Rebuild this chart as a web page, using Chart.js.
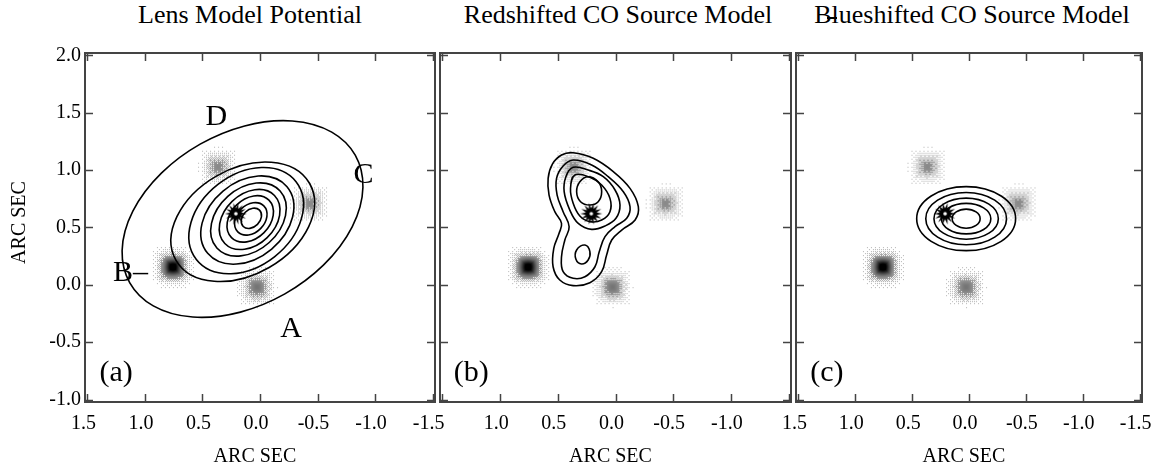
<!DOCTYPE html>
<html>
<head>
<meta charset="utf-8">
<script src="https://cdn.jsdelivr.net/npm/chart.js@4.4.1/dist/chart.umd.min.js"></script>
<style>
  body { margin: 0; background: #fff; }
  #wrap { position: relative; width: 1154px; height: 467px; overflow: hidden; }
  #wrap canvas { position: absolute; left: 0; top: 0; }
  .title { position: absolute; top: 0; font-family: "Liberation Serif", serif; font-size: 26px;
           line-height: 30px; white-space: nowrap; transform: translateX(-50%); color: #000; }
  .bar { position: absolute; left: 827px; top: 17px; width: 10px; height: 2px; background: #000; }
</style>
</head>
<body>
<div id="wrap">
  <div class="title" style="left:250px">Lens Model Potential</div>
  <div class="title" style="left:618px">Redshifted CO Source Model</div>
  <div class="title" style="left:972px">Blueshifted CO Source Model</div>
  <div class="bar"></div>
  <canvas id="pa" width="1154" height="467"></canvas>
  <canvas id="pb" width="1154" height="467"></canvas>
  <canvas id="pc" width="1154" height="467"></canvas>
</div>
<script>
const xTicks = [1.5, 1.0, 0.5, 0.0, -0.5, -1.0, -1.5];
const yTicks = [-1.0, -0.5, 0.0, 0.5, 1.0, 1.5, 2.0];

// the four lensed images (grey blobs), same in every panel
const spotX = [0.365, -0.435, 0.757, 0.026];
const spotY = [1.03, 0.71, 0.155, -0.02];
const spotPeak = [0.45, 0.45, 1.0, 0.55];

// lens centre marker
const starX = [0.21];
const starY = [0.62];

// (a) potential contours: centre, semi axes (arcsec), tilt (deg)
const lensCx = [0.152, 0.15, 0.12, 0.11, 0.10, 0.09, 0.085, 0.08, 0.075];
const lensCy = [0.574, 0.55, 0.56, 0.565, 0.57, 0.57, 0.575, 0.575, 0.58];
const lensA = [1.126, 0.67, 0.55, 0.45, 0.37, 0.30, 0.23, 0.16, 0.10];
const lensB = [0.75, 0.46, 0.40, 0.33, 0.27, 0.22, 0.17, 0.12, 0.075];
const lensTilt = [29.5, 30, 38, 40, 42, 44, 45, 45, 45];

const letterText = ["A", "B\u2013", "C", "D"];
const letterX = [-0.27, 1.126, -0.90, 0.38];
const letterY = [-0.385, 0.10, 0.96, 1.46];

const tagText = ["(a)", "(b)", "(c)"];
const tagX = 1.25;
const tagY = -0.77;

const red1 = [[0.367, 1.152], [0.193, 1.103], [0.019, 0.987], [-0.126, 0.841], [-0.198, 0.681],
  [-0.17, 0.565], [-0.054, 0.478], [0.033, 0.391], [0.077, 0.26], [0.12, 0.115], [0.222, 0.019],
  [0.367, -0.007], [0.483, 0.042], [0.541, 0.158], [0.535, 0.318], [0.489, 0.449], [0.468, 0.536],
  [0.526, 0.638], [0.576, 0.783], [0.584, 0.929], [0.546, 1.054], [0.468, 1.132]];
const red2 = [[0.367, 1.088], [0.207, 1.045], [0.063, 0.943], [-0.068, 0.812], [-0.126, 0.681],
  [-0.097, 0.58], [0.004, 0.507], [0.091, 0.42], [0.141, 0.289], [0.178, 0.158], [0.265, 0.071],
  [0.367, 0.057], [0.454, 0.115], [0.468, 0.245], [0.439, 0.391], [0.402, 0.507], [0.454, 0.638],
  [0.506, 0.783], [0.511, 0.929], [0.454, 1.036]];
const red3 = [[0.367, 1.025], [0.237, 1.001], [0.106, 0.943], [0.004, 0.827], [-0.039, 0.696],
  [-0.004, 0.58], [0.091, 0.513], [0.207, 0.484], [0.323, 0.536], [0.396, 0.652], [0.445, 0.812],
  [0.43, 0.943]];
const red4 = [[0.352, 0.958], [0.222, 0.938], [0.12, 0.87], [0.048, 0.754], [0.048, 0.638],
  [0.12, 0.565], [0.222, 0.551], [0.309, 0.6], [0.367, 0.711], [0.39, 0.841]];
const red5 = [[0.237, 0.943], [0.15, 0.899], [0.12, 0.812], [0.15, 0.725], [0.222, 0.696],
  [0.303, 0.725], [0.337, 0.812], [0.309, 0.899]];
const red6 = [[0.265, 0.347], [0.222, 0.289], [0.237, 0.217], [0.294, 0.182], [0.343, 0.223],
  [0.337, 0.304]];

// (c) blueshifted source contours
const blueCx = [0.025, 0.025, 0.025, 0.025, 0.025];
const blueCy = [0.577, 0.577, 0.577, 0.577, 0.577];
const blueA = [0.435, 0.355, 0.283, 0.217, 0.123];
const blueB = [0.279, 0.228, 0.179, 0.133, 0.083];
const blueTilt = [0, 0, 0, 0, 0];

const serif = "'Liberation Serif', 'Times New Roman', serif";

function makeSpot(peak) {
  const n = 48;
  const c = document.createElement("canvas");
  c.width = c.height = n;
  const g = c.getContext("2d");
  const bayer = [[0, 8, 2, 10], [12, 4, 14, 6], [3, 11, 1, 9], [15, 7, 13, 5]];
  for (let i = 0; i < n; i++) {
    for (let j = 0; j < n; j++) {
      const dx = i - n / 2 + 0.5, dy = j - n / 2 + 0.5;
      const r2 = 0.5 * (dx * dx + dy * dy) + 0.5 * Math.max(dx * dx, dy * dy);
      const v = peak * Math.exp(-r2 / (2 * 8 * 8));
      if (v < 0.02) continue;
      if ((bayer[i % 4][j % 4] + 0.5) / 16 > Math.min(1, v * 2.2)) continue;
      const s = Math.round(255 * (1 - Math.min(1, 0.3 + 0.8 * v * v)));
      g.fillStyle = `rgb(${s},${s},${s})`;
      g.fillRect(i, j, 1, 1);
    }
  }
  return c;
}

function makeStar() {
  const n = 26;
  const c = document.createElement("canvas");
  c.width = c.height = n;
  const g = c.getContext("2d");
  g.translate(n / 2, n / 2);
  const k = 14;
  g.beginPath();
  for (let i = 0; i < 2 * k; i++) {
    const r = i % 2 ? 5.5 : 11;
    const t = i * Math.PI / k;
    g.lineTo(r * Math.cos(t), r * Math.sin(t));
  }
  g.closePath();
  g.fillStyle = "#000";
  g.fill();
  g.fillStyle = "#fff";
  g.beginPath();
  g.arc(0, 0, 1.8, 0, Math.PI * 2);
  g.fill();
  return c;
}

const spotImgs = spotPeak.map(makeSpot);
const starImg = makeStar();

// wrap an outline so the bezier closes smoothly; the two extra segments are hidden
function closedLine(pts) {
  const n = pts.length;
  const wrapped = [pts[n - 1], ...pts, pts[0], pts[1]].map(p => ({ x: p[0], y: p[1] }));
  const last = wrapped.length - 1;
  return {
    type: "scatter",
    data: wrapped,
    showLine: true,
    borderColor: "#000",
    borderWidth: 1.6,
    pointRadius: 0,
    tension: 0.4,
    segment: {
      borderColor: ctx => (ctx.p0DataIndex === 0 || ctx.p1DataIndex === last) ? "rgba(0,0,0,0)" : undefined
    }
  };
}

function ellipses(cx, cy, a, b, tilt) {
  return {
    id: "ellipses",
    afterDatasetDraw(chart, args) {
      if (chart.data.datasets[args.index].label !== "spots") return;
      const { ctx, scales: { x, y } } = chart;
      const kx = Math.abs(x.getPixelForValue(1) - x.getPixelForValue(0));
      const ky = Math.abs(y.getPixelForValue(1) - y.getPixelForValue(0));
      ctx.save();
      ctx.strokeStyle = "#000";
      ctx.lineWidth = 1.6;
      cx.forEach((c, i) => {
        ctx.beginPath();
        ctx.ellipse(x.getPixelForValue(c), y.getPixelForValue(cy[i]), a[i] * kx, b[i] * ky,
          -tilt[i] * Math.PI / 180, 0, Math.PI * 2);
        ctx.stroke();
      });
      ctx.restore();
    }
  };
}

function decor(texts) {
  return {
    id: "decor",
    afterDraw(chart) {
      const { ctx, chartArea: ar, scales: { x, y } } = chart;
      ctx.save();
      ctx.fillStyle = "#000";
      ctx.textAlign = "center";
      ctx.textBaseline = "middle";
      texts.forEach(t => {
        ctx.font = `${t.size}px ${serif}`;
        ctx.fillText(t.text, x.getPixelForValue(t.x), y.getPixelForValue(t.y));
      });
      ctx.strokeStyle = "#444";
      ctx.lineWidth = 2;
      ctx.strokeRect(ar.left + 1, ar.top + 1, ar.width - 2, ar.height - 2);
      ctx.lineWidth = 1.5;
      ctx.beginPath();
      xTicks.forEach(v => {
        const px = Math.round(x.getPixelForValue(v)) + 0.5;
        ctx.moveTo(px, ar.bottom); ctx.lineTo(px, ar.bottom - 9);
        ctx.moveTo(px, ar.top); ctx.lineTo(px, ar.top + 9);
      });
      yTicks.forEach(v => {
        const py = Math.round(y.getPixelForValue(v)) + 0.5;
        ctx.moveTo(ar.left, py); ctx.lineTo(ar.left + 9, py);
        ctx.moveTo(ar.right, py); ctx.lineTo(ar.right - 9, py);
      });
      ctx.stroke();
      ctx.restore();
    }
  };
}

function makePanel(id, opts) {
  const datasets = [
    { label: "star", data: starX.map((v, i) => ({ x: v, y: starY[i] })), pointStyle: starImg, pointRadius: 10 },
    ...opts.lines.map(closedLine),
    { label: "spots", data: spotX.map((v, i) => ({ x: v, y: spotY[i] })),
      pointStyle: ctx => spotImgs[ctx.dataIndex], pointRadius: 10 }
  ];
  new Chart(document.getElementById(id), {
    type: "scatter",
    data: { datasets },
    options: {
      responsive: false,
      animation: false,
      events: [],
      layout: { padding: opts.padding },
      plugins: { legend: { display: false }, tooltip: { enabled: false } },
      scales: {
        x: {
          type: "linear", reverse: true, min: -1.53, max: 1.53,
          afterBuildTicks: s => { s.ticks = xTicks.map(v => ({ value: v })); },
          afterFit: s => { s.height = 64; s.paddingLeft = 0; s.paddingRight = 0; },
          grid: { display: false, drawTicks: false },
          border: { display: false },
          ticks: {
            autoSkip: false, maxRotation: 0, padding: 9, labelOffset: -4, color: "#000",
            font: { family: serif, size: 20 },
            callback: v => opts.skipEnds && Math.abs(v) === 1.5 ? "" : v.toFixed(1)
          },
          title: { display: true, text: "ARC SEC\u00a0\u00a0", color: "#000",
            font: { family: serif, size: 20, lineHeight: 1 }, padding: { top: 0, bottom: 0 } }
        },
        y: {
          type: "linear", min: -1.03, max: 2.03, display: opts.showY,
          afterBuildTicks: s => { s.ticks = yTicks.map(v => ({ value: v })); },
          afterFit: s => { s.width = opts.showY ? 84 : 0; s.paddingTop = 0; s.paddingBottom = 0; },
          grid: { display: false, drawTicks: false },
          border: { display: false },
          ticks: { autoSkip: false, padding: 3, color: "#000", font: { family: serif, size: 20 },
            callback: v => v.toFixed(1) },
          title: { display: true, text: "\u00a0\u00a0ARC SEC", color: "#000",
            font: { family: serif, size: 20, lineHeight: 1 }, padding: { top: 10, bottom: 0 } }
        }
      }
    },
    plugins: [opts.ellipse, decor(opts.texts)].filter(Boolean)
  });
}

const lettersA = letterText.map((t, i) => ({ text: t, x: letterX[i], y: letterY[i], size: 30 }));

makePanel("pa", {
  padding: { left: 0, right: 718, top: 52, bottom: 0 },
  showY: true,
  lines: [],
  ellipse: ellipses(lensCx, lensCy, lensA, lensB, lensTilt),
  texts: [...lettersA, { text: tagText[0], x: tagX, y: tagY, size: 30 }]
});

makePanel("pb", {
  padding: { left: 439, right: 362, top: 52, bottom: 0 },
  showY: false,
  skipEnds: true,
  lines: [red1, red2, red3, red4, red5, red6],
  texts: [{ text: tagText[1], x: tagX, y: tagY, size: 30 }]
});

makePanel("pc", {
  padding: { left: 795, right: 8, top: 52, bottom: 0 },
  showY: false,
  lines: [],
  ellipse: ellipses(blueCx, blueCy, blueA, blueB, blueTilt),
  texts: [{ text: tagText[2], x: tagX, y: tagY, size: 30 }]
});
</script>
</body>
</html>
